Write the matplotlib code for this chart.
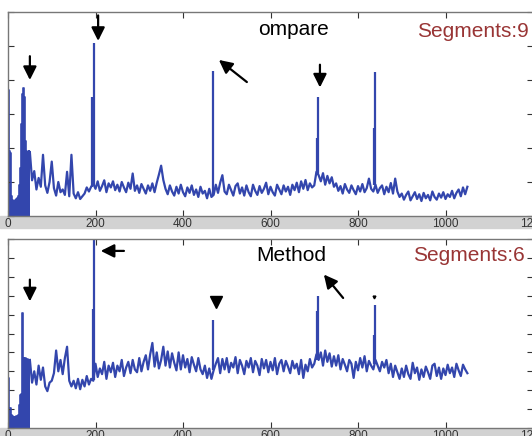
import numpy as np
import matplotlib
matplotlib.use("Agg")
import matplotlib.pyplot as plt
from matplotlib.patches import Rectangle

plt.rcParams['font.family'] = ['Liberation Sans', 'DejaVu Sans']

# low-frequency block, every 2 units from 0 to 50 (drawn solid)
low_x = np.arange(0, 51, 2)
top_low = [3.70, 3.70, 1.90, 1.85, 0.60, 0.48, 0.45, 0.42, 0.45, 0.48,
           0.50, 0.52, 0.58, 0.90, 1.40, 2.70, 2.76, 3.60, 3.76, 3.50,
           2.20, 1.90, 1.88, 1.86, 1.90, 1.88]
bot_low = [2.64, 2.64, 1.06, 1.06, 0.70, 0.65, 0.55, 0.60, 0.52, 0.58,
           0.62, 0.55, 0.70, 1.20, 1.75, 1.80, 6.06, 6.06, 3.70, 3.60,
           3.70, 3.50, 3.65, 3.55, 3.60, 3.60]

# rest of the trace, every 5 units from 50 to 1050
x = np.arange(50, 1051, 5)
top_vals = [
    1.88, 1.05, 1.32, 0.78, 1.12, 0.86, 1.80, 0.90, 0.68, 1.00,
    1.60, 0.82, 0.60, 1.00, 0.70, 0.78, 0.62, 1.30, 0.58, 1.80,
    0.66, 0.52, 0.70, 0.50, 0.58, 0.66, 0.84, 0.72, 0.86, 0.95,
    0.80, 1.02, 0.74, 0.88, 1.05, 0.70, 0.96, 0.84, 1.02, 0.76,
    0.92, 0.72, 1.00, 0.84, 0.70, 0.98, 0.80, 1.25, 0.74, 0.90,
    0.68, 0.94, 0.80, 0.66, 0.90, 0.74, 0.96, 0.70, 0.98, 1.22,
    1.48, 1.06, 0.80, 0.64, 0.90, 0.72, 0.60, 0.86, 0.66, 0.92,
    0.70, 0.58, 0.84, 0.68, 0.90, 0.62, 0.78, 0.56, 0.86, 0.66,
    0.74, 0.52, 0.80, 0.56, 0.62, 0.92, 0.68, 0.98, 1.20, 0.72,
    0.64, 0.92, 0.76, 0.60, 0.88, 0.96, 0.66, 0.84, 0.60, 0.90,
    0.70, 0.58, 0.92, 0.74, 0.62, 0.88, 0.68, 0.80, 0.98, 0.64,
    0.86, 0.70, 0.60, 0.92, 0.78, 0.64, 0.90, 0.72, 0.86, 0.62,
    0.92, 0.76, 0.98, 0.70, 1.02, 0.80, 1.06, 0.76, 0.96, 0.84,
    0.90, 1.30, 1.20, 1.02, 1.26, 0.92, 1.18, 0.96, 1.14, 0.86,
    0.96, 0.74, 0.88, 0.66, 0.94, 0.78, 0.68, 0.90, 0.76, 0.64,
    0.88, 0.72, 0.94, 0.70, 0.82, 1.10, 0.80, 0.72, 0.92, 0.68,
    0.82, 0.90, 0.64, 0.86, 0.70, 0.97, 0.66, 1.10, 0.72, 0.56,
    0.66, 0.48, 0.62, 0.72, 0.46, 0.58, 0.70, 0.50, 0.64, 0.44,
    0.68, 0.52, 0.62, 0.46, 0.72, 0.56, 0.48, 0.66, 0.54, 0.70,
    0.50, 0.64, 0.56, 0.74, 0.52, 0.68, 0.78, 0.58, 0.84, 0.64,
    0.86,
]
bot_vals = [
    3.60, 2.40, 3.00, 2.30, 3.30, 2.55, 3.20, 2.20, 1.95, 2.40,
    2.50, 2.90, 4.10, 3.00, 3.60, 2.85, 3.70, 4.30, 2.50, 2.20,
    2.50, 2.10, 2.60, 2.05, 2.55, 2.20, 2.75, 2.30, 2.60, 2.50,
    3.40, 2.70, 3.15, 2.85, 3.50, 2.60, 3.30, 2.95, 3.45, 2.70,
    3.30, 3.00, 3.60, 2.75, 3.20, 3.50, 2.90, 3.60, 3.10, 2.95,
    3.70, 3.00, 3.50, 3.85, 3.10, 3.90, 4.50, 3.25, 4.00, 3.15,
    3.60, 4.30, 3.30, 4.05, 3.20, 3.95, 3.45, 3.05, 4.00, 3.10,
    3.85, 3.20, 3.65, 2.95, 3.75, 3.35, 3.00, 3.70, 3.10, 2.85,
    3.30, 2.65, 3.15, 2.60, 3.05, 3.40, 3.70, 2.90, 3.65, 3.10,
    3.70, 2.95, 3.45, 3.20, 3.75, 2.90, 3.60, 3.30, 2.85, 3.55,
    3.20, 3.70, 2.95, 3.55, 3.30, 2.80, 3.65, 3.15, 3.60, 2.95,
    3.50, 3.05, 3.70, 2.85, 3.40, 3.60, 3.00, 3.55, 3.25, 2.90,
    3.55, 3.15, 3.40, 2.85, 3.60, 2.65, 3.35, 3.00, 3.65, 3.20,
    3.40, 3.90, 3.60, 4.00, 3.30, 4.10, 3.50, 3.95, 3.25, 3.80,
    3.30, 3.85, 3.10, 3.65, 3.35, 3.00, 3.60, 3.40, 2.65, 3.50,
    3.05, 3.70, 3.20, 3.80, 3.00, 3.55, 3.30, 3.10, 3.60, 3.30,
    3.00, 3.50, 3.20, 3.60, 2.90, 3.40, 2.70, 3.30, 2.95, 2.60,
    3.15, 2.70, 3.30, 2.85, 2.60, 3.45, 2.90, 3.20, 2.55, 3.10,
    2.70, 3.25, 2.95, 2.60, 3.30, 3.40, 2.75, 3.20, 2.60, 3.15,
    2.80, 3.35, 2.90, 3.20, 2.70, 3.40, 3.05, 2.75, 3.35, 3.10,
    2.90,
]

# narrow peaks (position, foot, top)
top_peak_x = [193, 196, 469, 707, 709, 837, 839]
top_peak_base = [0.86, 0.90, 0.62, 1.20, 1.20, 0.90, 0.90]
top_peak_y = [3.50, 5.10, 4.26, 2.30, 3.50, 2.60, 4.24]
bot_peak_x = [194, 197, 469, 707, 709, 837, 839]
bot_peak_base = [2.60, 2.55, 3.05, 3.60, 3.60, 3.40, 3.40]
bot_peak_y = [6.30, 10.6, 5.70, 6.20, 7.00, 4.90, 6.50]

xticks = [0, 200, 400, 600, 800, 1000, 1200]
titles = ["ompare", "Method"]
seg_labels = ["Segments:9", "Segments:6"]
ylims = [6, 10]

# arrows (tail, head) in data coords
top_arrows = [((50, 4.70), (50, 4.00)), ((206, 5.90), (206, 5.15)),
              ((546, 3.94), (482, 4.59)), ((713, 4.45), (713, 3.78))]
bot_arrows = [((265, 9.37), (212, 9.37)), ((50, 7.85), (50, 6.70)),
              ((766, 6.88), (722, 8.12))]

blue = '#3346ad'
dark_red = '#993535'

fig = plt.figure(figsize=(5.32, 4.36), dpi=100)
W, H = 532.0, 436.0

# grey bands behind the tick labels
fig.patches.append(Rectangle((0, 1 - 228 / H), 1, 12 / H, transform=fig.transFigure,
                             color='#d2d2d2', zorder=-5))
fig.patches.append(Rectangle((0, 0), 1, 8 / H, transform=fig.transFigure,
                             color='#d2d2d2', zorder=-5))

ax1 = fig.add_axes([8 / W, 1 - 216 / H, 525 / W, 204 / H])
ax2 = fig.add_axes([8 / W, 1 - 428 / H, 525 / W, 189 / H])

panels = [(ax1, top_low, top_vals, top_peak_x, top_peak_base, top_peak_y, ylims[0]),
          (ax2, bot_low, bot_vals, bot_peak_x, bot_peak_base, bot_peak_y, ylims[1])]
for ax, low, vals, px, pb, py, ym in panels:
    ax.fill_between(low_x, 0, low, color=blue, lw=0, step='mid')
    ax.plot(low_x, low, color=blue, lw=1.2, drawstyle='steps-mid')
    ax.plot(x, vals, color=blue, lw=1.6)
    ax.vlines(px, pb, py, color=blue, lw=1.6)
    ax.set_xlim(0, 1200)
    ax.set_ylim(0, ym)
    ax.set_xticks(xticks)
    ax.set_yticks(range(0, ym + 1))
    ax.set_yticklabels([])
    ax.tick_params(direction='in', top=True, right=True, length=4, width=0.8,
                   labelsize=8.5, pad=1.5, colors='#333333')
    for s in ax.spines.values():
        s.set_color('#777777')
        s.set_linewidth(1.0)

for ax, arrows in [(ax1, top_arrows), (ax2, bot_arrows)]:
    for tail, head in arrows:
        ax.annotate('', xy=head, xytext=tail,
                    arrowprops=dict(arrowstyle='-|>', color='black', lw=1.6,
                                    mutation_scale=20, shrinkA=0, shrinkB=0))

ax2.plot([475], [6.67], marker='v', color='black', markersize=9, ls='none')
ax2.plot([837], [6.95], marker='v', color='black', markersize=2, ls='none')

fig.text(258 / W, 1 - 35 / H, titles[0], fontsize=15, color='black', va='baseline')
fig.text(417 / W, 1 - 37 / H, seg_labels[0], fontsize=15, color=dark_red, va='baseline')
fig.text(256 / W, 1 - 261 / H, titles[1], fontsize=15, color='black', va='baseline')
fig.text(413 / W, 1 - 261 / H, seg_labels[1], fontsize=15, color=dark_red, va='baseline')

fig.savefig('out.png', dpi=100, facecolor='white')
